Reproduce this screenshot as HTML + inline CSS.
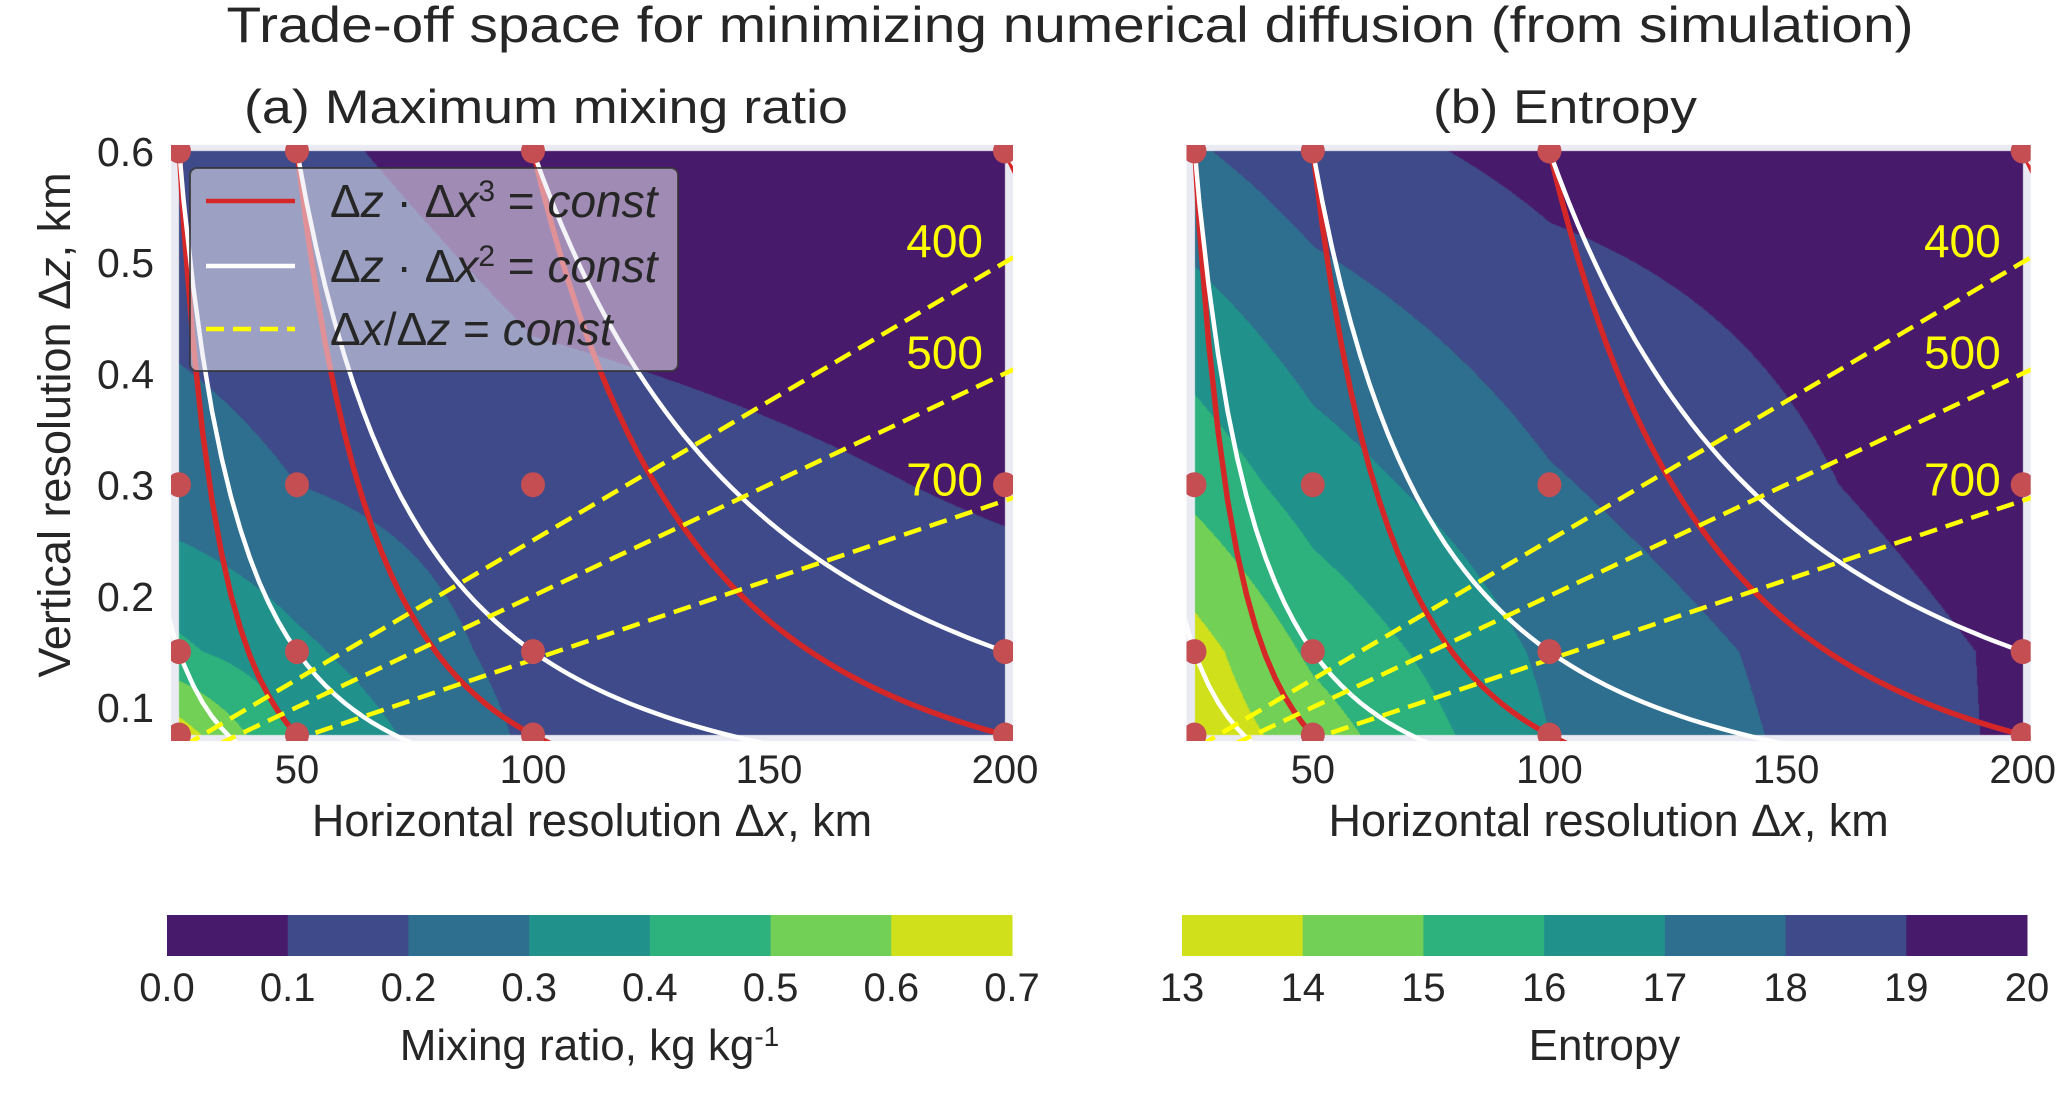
<!DOCTYPE html>
<html><head><meta charset="utf-8">
<style>
html,body{margin:0;padding:0;background:#fff;}
#wrap{position:relative;width:2067px;height:1106px;overflow:hidden;font-family:"Liberation Sans","DejaVu Sans",sans-serif;}
canvas,svg{position:absolute;left:0;top:0;}
</style></head>
<body>
<div id="wrap">
<canvas id="cv" width="2067" height="1106"></canvas>
<svg id="sv" width="2067" height="1106" xmlns="http://www.w3.org/2000/svg"></svg>
</div>
<script>
// ---- data ----
const gridX = [25, 50, 100, 200];
const gridZ = [0.075, 0.15, 0.3, 0.6];
const mixingValues = [
  [0.65, 0.39, 0.18, 0.15],
  [0.42, 0.32, 0.16, 0.13],
  [0.24, 0.20, 0.14, 0.09],
  [0.13, 0.12, 0.05, 0.03]
];
const entropyValues = [
  [13.3, 14.5, 17.0, 19.2],
  [13.6, 15.2, 17.2, 19.2],
  [15.3, 16.5, 17.9, 19.7],
  [17.9, 18.6, 19.3, 19.8]
];
const mixingLevels = [0, 0.1, 0.2, 0.3, 0.4, 0.5, 0.6, 0.7];
const entropyLevels = [13, 14, 15, 16, 17, 18, 19, 20];
const mixingTickLabels = ["0.0","0.1","0.2","0.3","0.4","0.5","0.6","0.7"];
const entropyTickLabels = ["13","14","15","16","17","18","19","20"];
const xTicks = [50, 100, 150, 200];
const yTicks = [0.1, 0.2, 0.3, 0.4, 0.5, 0.6];
const cubicConsts = [9375, 75000, 600000, 4800000];
const squareConsts = [93.75, 375, 1500, 6000, 24000];
const ratioConsts = [400, 500, 700];

const viridis7 = ["#481a6c","#3e4a89","#2e6e8e","#21918c","#2db27d","#73d056","#d0e11c"];
const SVGNS = "http://www.w3.org/2000/svg";
const svg = document.getElementById('sv');
function el(tag, attrs, parent){
  const e = document.createElementNS(SVGNS, tag);
  for (const k in attrs) e.setAttribute(k, attrs[k]);
  (parent||svg).appendChild(e);
  return e;
}
const panels = [
  {key:'a', left:179, right:1005, values:mixingValues, levels:mixingLevels, reversed:false},
  {key:'b', left:1194.5, right:2022.7, values:entropyValues, levels:entropyLevels, reversed:true}
];
const TOP = 151, BOT = 735, XMIN = 25, XMAX = 200, ZMIN = 0.075, ZMAX = 0.6;
function xs(p, x){ return p.left + (x - XMIN) / (XMAX - XMIN) * (p.right - p.left); }
function zs(z){ return TOP + (ZMAX - z) / (ZMAX - ZMIN) * (BOT - TOP); }
function interp(vals, x, z){
  let i = 0; while (i < gridX.length - 2 && x > gridX[i+1]) i++;
  let j = 0; while (j < gridZ.length - 2 && z > gridZ[j+1]) j++;
  const tx = Math.min(1, Math.max(0, (x - gridX[i]) / (gridX[i+1] - gridX[i])));
  const tz = Math.min(1, Math.max(0, (z - gridZ[j]) / (gridZ[j+1] - gridZ[j])));
  const a = vals[j][i], b = vals[j][i+1], c = vals[j+1][i], d = vals[j+1][i+1];
  return (a*(1-tx)+b*tx)*(1-tz) + (c*(1-tx)+d*tx)*tz;
}
function hex(h){ return [parseInt(h.substr(1,2),16),parseInt(h.substr(3,2),16),parseInt(h.substr(5,2),16)]; }

// ---- filled contours on canvas ----
const ctx = document.getElementById('cv').getContext('2d');
ctx.fillStyle = '#eaeaf2';
panels.forEach(p=>{ ctx.fillRect(p.left-8, TOP-6, (p.right-p.left)+16, (BOT-TOP)+12); });
panels.forEach(p=>{
  const x0 = Math.round(p.left), x1 = Math.round(p.right), w = x1 - x0, h = BOT - TOP;
  const img = ctx.createImageData(w, h);
  const cols = viridis7.map(hex);
  for (let py = 0; py < h; py++){
    const z = ZMAX - (py + 0.5) / h * (ZMAX - ZMIN);
    for (let px = 0; px < w; px++){
      const x = XMIN + (px + 0.5) / w * (XMAX - XMIN);
      const v = interp(p.values, x, z);
      let k = 0; while (k < p.levels.length - 2 && v >= p.levels[k+1]) k++;
      const c = p.reversed ? cols[6 - k] : cols[k];
      const o = (py * w + px) * 4;
      img.data[o] = c[0]; img.data[o+1] = c[1]; img.data[o+2] = c[2]; img.data[o+3] = 255;
    }
  }
  ctx.putImageData(img, x0, TOP);
});

// ---- clip paths ----
const defs = el('defs',{});
panels.forEach(p=>{
  const cp = el('clipPath',{id:'clip-'+p.key}, defs);
  el('rect',{x:p.left-8,y:TOP-6,width:(p.right-p.left)+16,height:(BOT-TOP)+12}, cp);
});

// ---- lines ----
panels.forEach(p=>{
  const g = el('g',{'clip-path':'url(#clip-'+p.key+')'});
  
  
  function curve(C, n, color, width, name){
    let pts = [];
    for (let x = 22; x <= 204; x += 2){
      const z = C / Math.pow(x, n);
      if (z > 0.75 || z < 0.04) continue;
      pts.push(xs(p, x).toFixed(1) + ',' + zs(z).toFixed(1));
    }
    if (pts.length < 2) return;
    const pl = el('polyline',{points:pts.join(' '),fill:'none',stroke:color,'stroke-width':width}, g);
    
    
  }
  cubicConsts.forEach((C,i)=>curve(C, 3, '#d62728', 5.5, 'dz-dx3-curve-'+i));
  squareConsts.forEach((C,i)=>curve(C, 2, '#ffffff', 4.5, 'dz-dx2-curve-'+i));
  ratioConsts.forEach((R,i)=>{
    const xa = Math.max(XMIN, ZMIN * R) - 4, xb = XMAX + 4;
    const ln = el('line',{x1:xs(p,xa),y1:zs(xa/R),x2:xs(p,xb),y2:zs(xb/R),stroke:'#ffff00','stroke-width':4.5,'stroke-dasharray':'18,9'}, g);
    
    
    const t = el('text',{x:xs(p,XMAX)-22,y:zs(XMAX/R)-5,'text-anchor':'end','font-size':46,fill:'#ffff00'});
    t.textContent = R;
    
    
  });
  gridZ.forEach(z=>gridX.forEach(x=>{
    const d = el('ellipse',{cx:xs(p,x),cy:zs(z),rx:12,ry:12.5,fill:'#c44e52'}, g);
    
    
  }));
});

// ---- ticks & labels ----
panels.forEach(p=>{
  xTicks.forEach(v=>{
    const t = el('text',{x:xs(p,v),y:783,'text-anchor':'middle','font-size':40,fill:'#262626'});
    t.textContent = v;
    
    
  });
  const xl = el('text',{x:(p.left+p.right)/2,y:836,'text-anchor':'middle','font-size':45,fill:'#262626'});
  xl.innerHTML = 'Horizontal resolution Δ<tspan font-style="italic">x</tspan>, km';
  
  
});
yTicks.forEach(v=>{
  const t = el('text',{x:154,y:zs(v)+15,'text-anchor':'end','font-size':41,fill:'#262626'});
  t.textContent = v.toFixed(1);
  
  
});
const yl = el('text',{transform:'translate(70,425) rotate(-90)','text-anchor':'middle','font-size':45,fill:'#262626'});
yl.innerHTML = 'Vertical resolution Δ<tspan font-style="italic">z</tspan>, km';



// ---- titles ----
const tt = el('text',{x:1070,y:42,'text-anchor':'middle','font-size':50,fill:'#262626',textLength:1687,lengthAdjust:'spacingAndGlyphs'});
tt.textContent = 'Trade-off space for minimizing numerical diffusion (from simulation)';


const sa = el('text',{x:244,y:123,'font-size':47,fill:'#262626',textLength:604,lengthAdjust:'spacingAndGlyphs'});
sa.textContent = '(a)  Maximum mixing ratio';


const sb = el('text',{x:1433,y:123,'font-size':47,fill:'#262626',textLength:264,lengthAdjust:'spacingAndGlyphs'});
sb.textContent = '(b)  Entropy';



// ---- legend ----
const lg = el('g',{});


el('rect',{x:190,y:168,width:488,height:203,rx:7,fill:'#eaeaf2','fill-opacity':0.55,stroke:'#333','stroke-opacity':0.8,'stroke-width':2}, lg);
const legendItems = [
  {y:201, color:'#d62728', dash:'', txt:'Δ<tspan font-style="italic">z</tspan> · Δ<tspan font-style="italic">x</tspan><tspan dy="-16" font-size="30">3</tspan><tspan dy="16"> = </tspan><tspan font-style="italic">const</tspan>', name:'legend-entry-cubic'},
  {y:266, color:'#ffffff', dash:'', txt:'Δ<tspan font-style="italic">z</tspan> · Δ<tspan font-style="italic">x</tspan><tspan dy="-16" font-size="30">2</tspan><tspan dy="16"> = </tspan><tspan font-style="italic">const</tspan>', name:'legend-entry-square'},
  {y:329, color:'#ffff00', dash:'18,9', txt:'Δ<tspan font-style="italic">x</tspan>/Δ<tspan font-style="italic">z</tspan> = <tspan font-style="italic">const</tspan>', name:'legend-entry-ratio'}
];
legendItems.forEach(it=>{
  const g = el('g',{}, lg);
  
  
  el('line',{x1:206,y1:it.y,x2:295,y2:it.y,stroke:it.color,'stroke-width':4.5,'stroke-dasharray':it.dash}, g);
  const t = el('text',{x:330,y:it.y+16,'font-size':46,fill:'#262626'}, g);
  t.innerHTML = it.txt;
});

// ---- colorbars ----
const cbars = [
  {key:'mixing', left:167, right:1012, ticks:mixingTickLabels, reversed:false, label:'Mixing ratio, kg kg<tspan dy="-14" font-size="28">-1</tspan>'},
  {key:'entropy', left:1182, right:2027, ticks:entropyTickLabels, reversed:true, label:'Entropy'}
];
cbars.forEach(cb=>{
  const g = el('g',{});
  
  
  const n = cb.ticks.length - 1, w = (cb.right - cb.left) / n;
  for (let i = 0; i < n; i++){
    const r = el('rect',{x:cb.left + i*w, y:915, width:w+0.5, height:41, fill: cb.reversed ? viridis7[6-i] : viridis7[i]}, g);
    
    
  }
  cb.ticks.forEach((lab,i)=>{
    const t = el('text',{x:cb.left + i*w, y:1001,'text-anchor':'middle','font-size':40,fill:'#262626'}, g);
    t.textContent = lab;
    
    
  });
  const lt = el('text',{x:(cb.left+cb.right)/2, y:1060,'text-anchor':'middle','font-size':44,fill:'#262626'}, g);
  lt.innerHTML = cb.label;
  
  
});
</script>
</body></html>
